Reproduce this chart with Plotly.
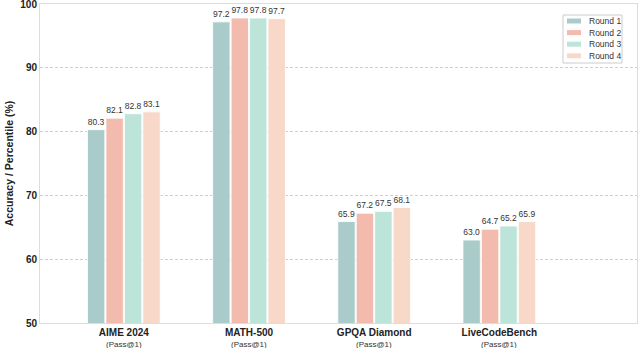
import plotly.graph_objects as go

benchmarks = ["AIME 2024", "MATH-500", "GPQA Diamond", "LiveCodeBench"]
metric = "(Pass@1)"
rounds = ["Round 1", "Round 2", "Round 3", "Round 4"]
round1 = [80.3, 97.2, 65.9, 63.0]
round2 = [82.1, 97.8, 67.2, 64.7]
round3 = [82.8, 97.8, 67.5, 65.2]
round4 = [83.1, 97.7, 68.1, 65.9]
colors = ["#A9CCCB", "#F2BBAE", "#BDE4D8", "#F8D9C9"]

x = list(range(len(benchmarks)))

fig = go.Figure()
for name, vals, c in zip(rounds, [round1, round2, round3, round4], colors):
    fig.add_trace(go.Bar(
        x=x, y=vals, name=name,
        marker=dict(color=c, line=dict(color="white", width=0.8)),
        text=[f"{v:.1f}" for v in vals],
        textposition="outside",
        textfont=dict(size=8.5, color="#333333"),
        cliponaxis=False,
        showlegend=False,
    ))

# metric line under each benchmark name
annotations = [
    dict(x=i, y=0, xref="x", yref="paper", text=metric, showarrow=False,
         yanchor="top", yshift=-15, font=dict(size=8, color="#333333"))
    for i in x
]

# compact legend drawn by hand (top right)
shapes = []
px = lambda p: (p - 40) / 597
py = lambda p: (323 - p) / 319
shapes.append(dict(type="rect", xref="paper", yref="paper",
                   x0=px(563), x1=px(622), y0=py(63), y1=py(15),
                   line=dict(color="#cccccc", width=1), fillcolor="white", layer="above"))
for k, (name, c) in enumerate(zip(rounds, colors)):
    yc = 21 + k * 11.6
    shapes.append(dict(type="rect", xref="paper", yref="paper",
                       x0=px(567), x1=px(581), y0=py(yc + 2.5), y1=py(yc - 2.5),
                       line=dict(width=0), fillcolor=c, layer="above"))
    annotations.append(dict(x=px(587), y=py(yc), xref="paper", yref="paper",
                            text=name, showarrow=False, xanchor="left", yanchor="middle",
                            font=dict(size=8.5, color="#333333")))

fig.update_layout(
    width=640, height=348,
    margin=dict(l=40, r=3, t=4, b=25),
    paper_bgcolor="white",
    plot_bgcolor="white",
    font=dict(family="Liberation Sans, Arial, sans-serif", color="#222222"),
    barmode="group",
    bargap=0.41,
    bargroupgap=0.06,
    showlegend=False,
    shapes=shapes,
    annotations=annotations,
)

fig.update_xaxes(
    tickmode="array", tickvals=x, ticktext=[f"<b>{b}</b>" for b in benchmarks],
    range=[-0.67, 4.1], automargin=False,
    showline=True, linecolor="#dddddd", linewidth=1, mirror=True,
    showgrid=False, ticks="",
    tickfont=dict(size=10, color="#222222"),
)
fig.update_yaxes(
    range=[50, 100], automargin=False,
    tickvals=[50, 60, 70, 80, 90, 100],
    ticklabeloverflow="allow",
    showline=True, linecolor="#dddddd", linewidth=1, mirror=True,
    showgrid=True, gridcolor="#cfcfcf", griddash="3px,2px", gridwidth=1,
    ticks="",
    tickfont=dict(size=10, color="#222222", weight="bold"),
    title=dict(text="<b>Accuracy / Percentile (%)</b>", font=dict(size=10.5, color="#222222"), standoff=4),
)

fig.write_html("out.html", config={"displayModeBar": False},
               post_script="document.body.style.margin='0px';")
